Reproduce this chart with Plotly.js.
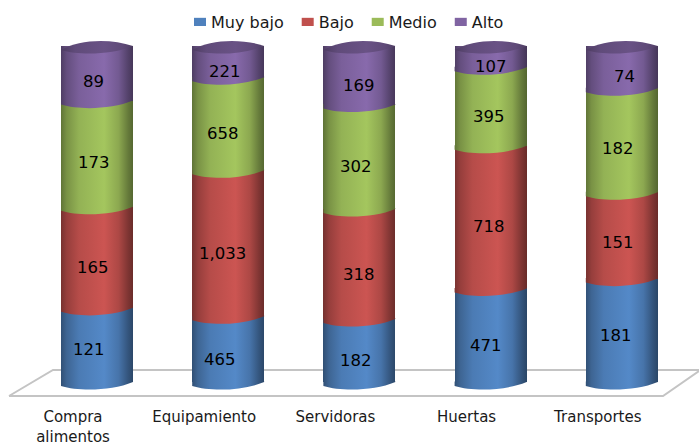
<!DOCTYPE html>
<html><head><meta charset="utf-8">
<script src="https://cdn.plot.ly/plotly-3.0.1.min.js"></script>
<style>html,body{margin:0;padding:0;background:#fff}#c{width:699px;height:443px}</style>
</head><body><div id="c"></div>
<script>
const categories = ['Compra<br>alimentos','Equipamiento','Servidoras','Huertas','Transportes'];
const seriesNames = ['Muy bajo','Bajo','Medio','Alto'];
const muyBajo = [121,465,182,471,181];
const bajo = [165,1033,318,718,151];
const medio = [173,658,302,395,182];
const alto = [89,221,169,107,74];
const colors = ['#4F81BD','#C0504D','#9BBB59','#8064A2'];
const labelDx = [[-8,-8,-3,-5,-6],[-4,-6,0,-2,-4],[-3,-5,-3,-2,-4],[-4,-3,0,0,3]];
const labelDy = [[5,10,10,10,5],[10,10,10,9,7],[9,10,10,10,8],[8,10,10,10,9]];

const W=699,H=443,plotB=396,stepPx=131.2,tick0=73,y0Px=382,y100Px=46;
const pxPerPct=(y0Px-y100Px)/100;
const barPx=72,barShift=24/stepPx,barW=barPx/stepPx;
const series=[muyBajo,bajo,medio,alto];
const totals=categories.map((_,i)=>series.reduce((s,a)=>s+a[i],0));

const traces=series.map((vals,k)=>({
  type:'bar',name:seriesNames[k],x:categories.map((_,i)=>i),y:vals,
  width:barW,offset:barShift-barW/2,
  marker:{color:colors[k],line:{width:0}},hoverinfo:'skip'
}));

const dy=p=>p/pxPerPct;
const shapes=[];const shapeFill=[];
shapes.push({type:'path',xref:'paper',yref:'paper',layer:'below',
  path:`M ${9/W} ${1-396/plotB} L ${53/W} ${1-370/plotB} L 1 ${1-370/plotB} M ${9/W} ${1-396/plotB} L ${663/W} ${1-396/plotB} L 1 ${1-371/plotB}`,
  line:{color:'#c4c4c4',width:2},fillcolor:'rgba(0,0,0,0)'});
shapeFill.push(null);
function arc(i,pct,k){
  const L=i+barShift-barW/2;
  const P=(fx,py)=>`${L+fx*barW} ${pct-dy(py)}`;
  shapes.push({type:'path',xref:'x',yref:'y',layer:'above',line:{width:0},fillcolor:colors[k],
    path:`M ${P(0,-0.5)} L ${P(0,4)} C ${P(.25,9.5)} ${P(.7,9)} ${P(1,0)} L ${P(1,-0.5)} Z`});
  shapeFill.push('g'+k);
}
categories.forEach((_,i)=>{
  let acc=0;
  series.forEach((a,k)=>{arc(i,acc,k);acc+=a[i]/totals[i]*100;});
  const L=i+barShift-barW/2;
  const P=(fx,py)=>`${L+fx*barW} ${100-dy(py)}`;
  shapes.push({type:'path',xref:'x',yref:'y',layer:'above',line:{width:0},fillcolor:'#654f80',
    path:`M ${P(0,4)} C ${P(.25,-7)} ${P(.7,-7.7)} ${P(1,0)} C ${P(.7,9)} ${P(.25,9.5)} ${P(0,4)} Z`});
  shapeFill.push('gTop');
});

const annotations=[];
categories.forEach((_,i)=>{
  let acc=0;
  series.forEach((a,k)=>{
    const h=a[i]/totals[i]*100;
    annotations.push({x:i+barShift,y:acc+h/2,xref:'x',yref:'y',showarrow:false,
      text:a[i].toLocaleString('en-US'),xshift:labelDx[k][i],yshift:-labelDy[k][i],
      font:{family:'DejaVu Sans',size:16.5,color:'#000'},xanchor:'center',yanchor:'middle'});
    acc+=h;
  });
});

const layout={
  width:W,height:H,margin:{l:0,r:0,t:0,b:H-plotB,pad:0},autosize:false,
  paper_bgcolor:'#fff',plot_bgcolor:'rgba(0,0,0,0)',
  barmode:'stack',barnorm:'percent',
  xaxis:{range:[-tick0/stepPx,(W-tick0)/stepPx],tickmode:'array',tickvals:categories.map((_,i)=>i),ticktext:categories,
    showgrid:false,zeroline:false,showline:false,ticks:'outside',ticklen:7,tickcolor:'rgba(0,0,0,0)',tickangle:0,
    tickfont:{family:'DejaVu Sans',size:15,color:'#1a1a1a'},fixedrange:true},
  yaxis:{range:[-(plotB-y0Px)/pxPerPct,100+y100Px/pxPerPct],visible:false,fixedrange:true},
  legend:{orientation:'h',x:171/W,xanchor:'left',y:1-22/plotB,yanchor:'middle',traceorder:'normal',
    font:{family:'DejaVu Sans',size:16,color:'#1a1a1a'},bgcolor:'rgba(0,0,0,0)'},
  shapes,annotations,showlegend:true
};

function shade(hex,f){
  const n=parseInt(hex.slice(1),16),c=[n>>16,(n>>8)&255,n&255].map(v=>Math.min(255,Math.round(v*f)));
  return `rgb(${c.join(',')})`;
}
const stops=[[0,.62],[.08,.78],[.25,.95],[.6,1.06],[.8,.9],[.93,.66],[1,.55]];
const topStops=[[0,.6],[.2,.75],[.6,.82],[.85,.74],[1,.62]];
function grad(defs,id,hex,st){
  const g=document.createElementNS('http://www.w3.org/2000/svg','linearGradient');
  g.setAttribute('id',id);g.setAttribute('x1','0');g.setAttribute('x2','1');g.setAttribute('y1','0');g.setAttribute('y2','0');
  st.forEach(([o,f])=>{const s=document.createElementNS('http://www.w3.org/2000/svg','stop');
    s.setAttribute('offset',o);s.setAttribute('stop-color',shade(hex,f));g.appendChild(s);});
  defs.appendChild(g);
}
Plotly.newPlot('c',traces,layout,{displayModeBar:false,staticPlot:true}).then(gd=>{
  const svg=gd.querySelector('svg.main-svg');
  const defs=document.createElementNS('http://www.w3.org/2000/svg','defs');svg.insertBefore(defs,svg.firstChild);
  colors.forEach((c,k)=>grad(defs,'g'+k,c,stops));
  grad(defs,'gTop',colors[3],topStops);
  gd.querySelectorAll('.barlayer .trace').forEach((t,k)=>{
    t.querySelectorAll('path').forEach(p=>{p.style.fill=`url(#g${k})`;});
  });
  gd.querySelectorAll('path[data-index]').forEach(p=>{
    const f=shapeFill[+p.getAttribute('data-index')];
    if(f)p.style.fill=`url(#${f})`;
  });
  gd.querySelectorAll('.legendpoints path').forEach(p=>{
    p.setAttribute('transform','translate(29,0) scale(1,.68)');
  });
  gd.querySelectorAll('.legend .traces').forEach((t,k)=>{
    const m=/translate\(\s*([-\d.]+)[ ,]+([-\d.]+)/.exec(t.getAttribute('transform')||'');
    if(m)t.setAttribute('transform',`translate(${+m[1]-10*k},${m[2]})`);
  });
});
</script></body></html>
